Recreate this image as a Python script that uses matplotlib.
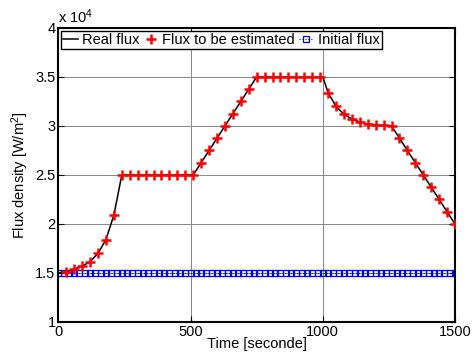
import numpy as np
import matplotlib
matplotlib.use("Agg")
import matplotlib.pyplot as plt
from matplotlib.ticker import FuncFormatter

plt.rcParams.update({"font.family": ["Liberation Sans", "DejaVu Sans"], "font.size": 10,
                     "mathtext.fontset": "custom", "mathtext.rm": "Liberation Sans",
                     "mathtext.it": "Liberation Sans"})

# flux to be estimated, sampled every 30 s (W/m^2)
t_est = [30, 60, 90, 120, 150, 180, 210, 240,
         270, 300, 330, 360, 390, 420, 450, 480, 510,
         540, 570, 600, 630, 660, 690, 720, 750,
         780, 810, 840, 870, 900, 930, 960, 990,
         1020, 1050, 1080, 1110, 1140, 1170, 1200, 1230, 1260,
         1290, 1320, 1350, 1380, 1410, 1440, 1470, 1500]
flux_est = [15130, 15400, 15700, 16150, 17000, 18400, 20900, 25000,
            25000, 25000, 25000, 25000, 25000, 25000, 25000, 25000, 25000,
            26250, 27500, 28750, 30000, 31250, 32500, 33750, 35000,
            35000, 35000, 35000, 35000, 35000, 35000, 35000, 35000,
            33400, 32000, 31200, 30700, 30400, 30200, 30100, 30050, 30000,
            28750, 27500, 26250, 25000, 23750, 22500, 21250, 20000]

# real flux profile (breakpoints of the reference trajectory)
t_real = [0] + t_est[:32] + [1000] + t_est[33:]
flux_real = [15000] + flux_est[:32] + [35000] + flux_est[33:]

# initial guess: constant flux, every 20 s
t_init = list(range(0, 1501, 20))
flux_init = [15000] * len(t_init)

fig = plt.figure(figsize=(4.73, 3.54), dpi=100)
ax = fig.add_axes([0.1233, 0.0904, 0.8387, 0.8306])

ax.plot(t_real, flux_real, color="black", lw=1.1, label="Real flux", zorder=3)
ax.plot(t_est, flux_est, ls="none", marker="+", ms=6.5, mew=1.8, color="red",
        label="Flux to be estimated", zorder=4)
ax.plot(t_init, flux_init, ls=":", lw=0.8, marker="s", ms=4.6, mew=0.9, mfc="none",
        color="blue", label="Initial flux", zorder=2)

ax.set_xlim(0, 1500)
ax.set_ylim(10000, 40000)
ax.set_xticks([0, 500, 1000, 1500])
ax.set_yticks(np.arange(10000, 40001, 5000))
ax.yaxis.set_major_formatter(FuncFormatter(lambda v, _: f"{v/1e4:g}"))
ax.grid(True, color="#888888", lw=0.7)
ax.set_axisbelow(True)
ax.tick_params(direction="in", top=True, right=True, length=4, width=0.8, pad=2,
               labelsize=10.5)
for s in ax.spines.values():
    s.set_linewidth(1.5)

ax.set_xlabel("Time [seconde]", fontsize=10.5, labelpad=-1)
ax.set_ylabel("Flux density [W/m$^2$]", fontsize=10.5, labelpad=3)
ax.text(0, 1.005, r"x 10$^4$", transform=ax.transAxes, fontsize=10.5,
        ha="left", va="bottom")

leg = ax.legend(loc="upper left", ncol=3, fontsize=10.5, frameon=True, fancybox=False,
                handlelength=1.0, handletextpad=0.3, columnspacing=0.25,
                borderpad=0.15, borderaxespad=0.2, framealpha=1)
leg.get_frame().set_edgecolor("black")
leg.get_frame().set_linewidth(1.0)

fig.savefig("out.png", dpi=100)
